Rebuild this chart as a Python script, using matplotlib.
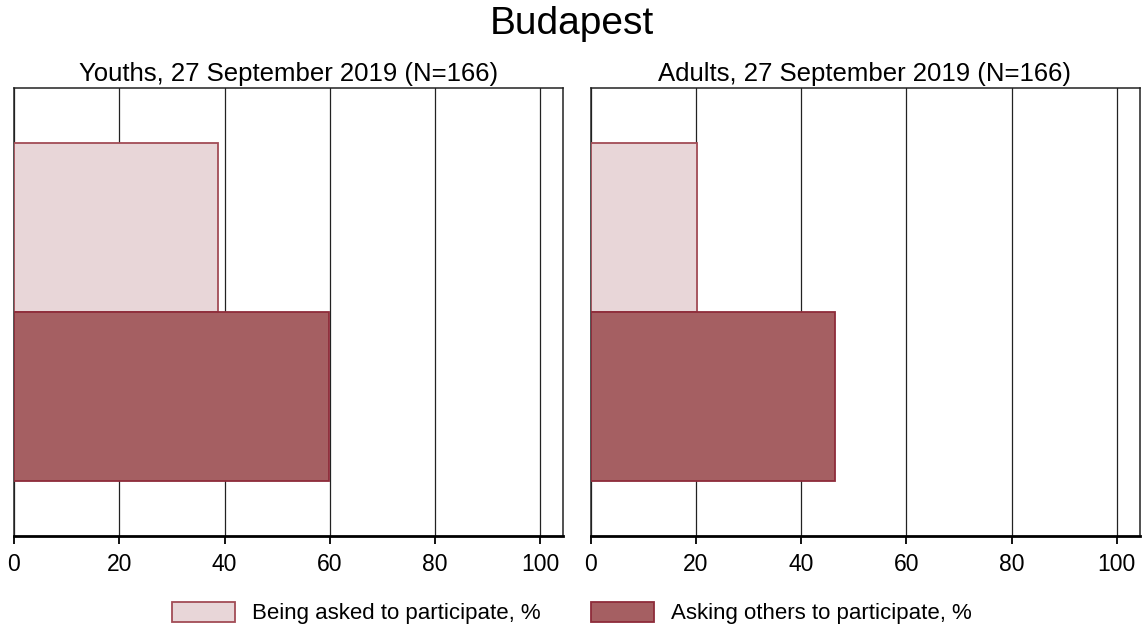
import matplotlib
matplotlib.use("Agg")
import matplotlib.pyplot as plt
from matplotlib.patches import Patch

plt.rcParams['font.family'] = ['Liberation Sans', 'DejaVu Sans']

panel_titles = ["Youths, 27 September 2019 (N=166)", "Adults, 27 September 2019 (N=166)"]
series_names = ["Being asked to participate, %", "Asking others to participate, %"]
being_asked = [38.8, 20.2]
asking_others = [59.9, 46.5]
xticks = [0, 20, 40, 60, 80, 100]

light_fill, light_edge = "#E8D6D8", "#A24C56"
dark_fill, dark_edge = "#A55F62", "#8E2C3A"

fig = plt.figure(figsize=(11.44, 6.28), dpi=100)
lefts = [14 / 1144, 590.5 / 1144]
width = 549 / 1144
bottom = 1 - 536 / 628
height = 448 / 628

for i in range(2):
    ax = fig.add_axes([lefts[i], bottom, width, height])
    ax.barh([1], [being_asked[i]], height=1.0, color=light_fill, edgecolor=light_edge, linewidth=1.3, zorder=3)
    ax.barh([0], [asking_others[i]], height=1.0, color=dark_fill, edgecolor=dark_edge, linewidth=1.3, zorder=3)
    ax.set_xlim(0, 104.3)
    ax.set_ylim(-0.825, 1.825)
    ax.set_xticks(xticks)
    ax.set_xticklabels([str(t) for t in xticks], fontsize=16.5)
    ax.set_yticks([])
    ax.grid(axis='x', color='#222222', linewidth=0.9, zorder=1)
    ax.tick_params(axis='x', direction='out', length=6, width=1.3, color='black', pad=6)
    for s in ['top', 'left', 'right']:
        ax.spines[s].set_linewidth(1.1)
        ax.spines[s].set_color('#222222')
    ax.spines['bottom'].set_linewidth(2.0)
    ax.spines['bottom'].set_color('black')
    ax.set_title(panel_titles[i], fontsize=18.5, pad=5)

fig.text(0.5, 1 - 24 / 628, "Budapest", ha='center', va='center', fontsize=28)

handles = [Patch(facecolor=light_fill, edgecolor=light_edge, linewidth=1.3),
           Patch(facecolor=dark_fill, edgecolor=dark_edge, linewidth=1.3)]
fig.legend(handles, series_names, loc='center', bbox_to_anchor=(0.5, 1 - 613 / 628), ncol=2,
           frameon=False, fontsize=16, handlelength=2.84, handleheight=1.04,
           handletextpad=0.77, columnspacing=2.25, borderaxespad=0)

fig.savefig("out.png", dpi=100)
